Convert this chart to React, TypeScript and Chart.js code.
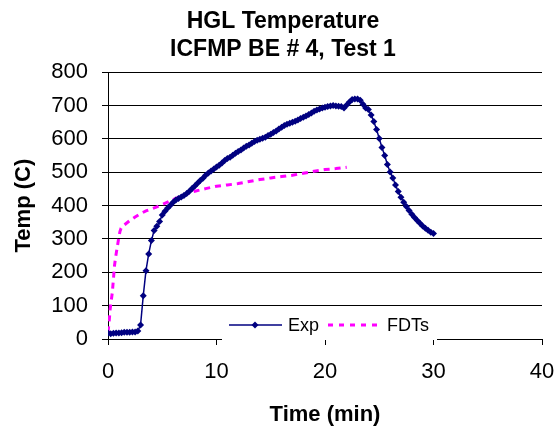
import React, { useEffect, useRef } from "react";
import { Chart, registerables } from "chart.js";

Chart.register(...registerables);

const FONT = "'Liberation Sans', Arial, Helvetica, sans-serif";
const NAVY = "#000080";
const MAGENTA = "#FF00FF";

const chartTitle = ["HGL Temperature", "ICFMP BE # 4, Test 1"];
const xAxisTitle = "Time (min)";
const yAxisTitle = "Temp (C)";
const seriesNames = ["Exp", "FDTs"];

const expTime = [
  0, 0.25, 0.5, 0.75, 1, 1.25, 1.5, 1.75, 2, 2.25, 2.5, 2.75,
  3, 3.25, 3.5, 3.75, 4, 4.25, 4.5, 4.75, 5, 5.25, 5.5, 5.75,
  6, 6.25, 6.5, 6.75, 7, 7.25, 7.5, 7.75, 8, 8.25, 8.5, 8.75,
  9, 9.25, 9.5, 9.75, 10, 10.25, 10.5, 10.75, 11, 11.25, 11.5, 11.75,
  12, 12.25, 12.5, 12.75, 13, 13.25, 13.5, 13.75, 14, 14.25, 14.5, 14.75,
  15, 15.25, 15.5, 15.75, 16, 16.25, 16.5, 16.75, 17, 17.25, 17.5, 17.75,
  18, 18.25, 18.5, 18.75, 19, 19.25, 19.5, 19.75, 20, 20.25, 20.5, 20.75,
  21, 21.25, 21.5, 21.75, 22, 22.25, 22.5, 22.75, 23, 23.25, 23.5, 23.75,
  24, 24.25, 24.5, 24.75, 25, 25.25, 25.5, 25.75, 26, 26.25, 26.5, 26.75,
  27, 27.25, 27.5, 27.75, 28, 28.25, 28.5, 28.75, 29, 29.25, 29.5, 29.75,
  30,
];

const expTemp = [
  18, 16, 17, 18, 18, 19, 20, 20, 20, 21, 21, 24,
  42, 130, 205, 255, 295, 325, 338, 352, 372, 383, 393, 401,
  410, 417, 421, 426, 430, 436, 443, 451, 459, 467, 475, 482,
  491, 498, 504, 510, 516, 521, 528, 535, 541, 545, 551, 557,
  562, 567, 573, 578, 582, 587, 592, 596, 599, 602, 605, 610,
  614, 619, 624, 630, 635, 640, 644, 647, 650, 653, 657, 661,
  665, 669, 673, 678, 683, 687, 690, 693, 695, 697, 699, 700,
  699, 698, 697, 693, 702, 711, 718, 720, 720, 716, 704, 693,
  688, 672, 652, 628, 601, 574, 550, 523, 501, 483, 462, 442,
  425, 410, 397, 385, 374, 364, 355, 347, 339, 332, 326, 320,
  316,
];

const fdtTime = [
  0, 0.1, 0.2, 0.3, 0.4, 0.5, 0.6, 0.7, 0.8, 0.9, 1.0, 1.1, 1.2, 1.5,
  2, 2.5, 3, 3.5, 4, 4.5, 5, 6, 7, 8, 9, 10, 11, 12, 13, 14, 15, 16,
  17, 18, 19, 20, 21, 22,
];

const fdtTemp = [
  20, 50, 90, 115, 140, 180, 220, 245, 265, 285, 305, 322, 332, 342,
  355, 366, 376, 384, 390, 396, 403, 418, 432, 443, 451, 458, 462, 466,
  472, 478, 483, 487, 491, 497, 503, 508, 511, 515,
];

const xTicks = { min: 0, max: 40, step: 10 };
const yTicks = { min: 0, max: 800, step: 100 };

export default function App() {
  const ref = useRef<HTMLCanvasElement>(null);

  useEffect(() => {
    if (!ref.current) return;

    const insideLegend = {
      id: "insideLegend",
      afterDatasetsDraw(chart: any) {
        const { ctx, chartArea: a } = chart;
        ctx.save();
        const bx = a.left + 114;
        const by = a.bottom - 30;
        ctx.fillStyle = "#ffffff";
        ctx.fillRect(bx, by, 215, 31);
        const cy = a.bottom - 14;
        // Exp
        ctx.strokeStyle = NAVY;
        ctx.lineWidth = 1.3;
        ctx.beginPath();
        ctx.moveTo(bx + 7, cy);
        ctx.lineTo(bx + 60, cy);
        ctx.stroke();
        ctx.fillStyle = NAVY;
        ctx.beginPath();
        const mx = bx + 33;
        ctx.moveTo(mx, cy - 3.5);
        ctx.lineTo(mx + 3.5, cy);
        ctx.lineTo(mx, cy + 3.5);
        ctx.lineTo(mx - 3.5, cy);
        ctx.closePath();
        ctx.fill();
        ctx.fillStyle = "#000";
        ctx.font = `18px ${FONT}`;
        ctx.textBaseline = "middle";
        ctx.textAlign = "left";
        ctx.fillText(seriesNames[0], bx + 66, cy + 1);
        // FDTs
        ctx.strokeStyle = MAGENTA;
        ctx.lineWidth = 3;
        ctx.setLineDash([5, 6]);
        ctx.beginPath();
        ctx.moveTo(bx + 106, cy);
        ctx.lineTo(bx + 160, cy);
        ctx.stroke();
        ctx.setLineDash([]);
        ctx.fillText(seriesNames[1], bx + 165, cy + 1);
        ctx.restore();
      },
    };

    const chart = new Chart(ref.current, {
      type: "line",
      data: {
        datasets: [
          {
            label: seriesNames[0],
            data: expTime.map((t, i) => ({ x: t, y: expTemp[i] })),
            borderColor: NAVY,
            backgroundColor: NAVY,
            borderWidth: 1.5,
            pointStyle: "rectRot",
            pointRadius: 3.5,
            pointBorderWidth: 0,
            pointBackgroundColor: NAVY,
            tension: 0,
          },
          {
            label: seriesNames[1],
            data: fdtTime.map((t, i) => ({ x: t, y: fdtTemp[i] })),
            borderColor: MAGENTA,
            backgroundColor: MAGENTA,
            borderWidth: 3,
            borderDash: [6, 5],
            pointRadius: 0,
            tension: 0,
          },
        ],
      },
      options: {
        responsive: false,
        animation: false,
        layout: { padding: { left: 11, right: 0, top: 0, bottom: 0 } },
        plugins: {
          legend: { display: false },
          tooltip: { enabled: false },
          title: {
            display: true,
            text: chartTitle,
            color: "#000",
            font: { family: FONT, size: 23, weight: "bold", lineHeight: 1.2 },
            padding: { top: 8, bottom: 9 },
          },
        },
        scales: {
          x: {
            type: "linear",
            min: xTicks.min,
            max: xTicks.max,
            afterFit: (s: any) => {
              s.height = 88;
              s.paddingRight = 13;
            },
            ticks: {
              stepSize: xTicks.step,
              color: "#000",
              font: { family: FONT, size: 22 },
              padding: 14,
              maxRotation: 0,
            },
            grid: {
              drawOnChartArea: false,
              drawTicks: true,
              tickLength: 6,
              color: "#000",
            },
            border: { color: "#000", width: 1 },
            title: {
              display: true,
              text: xAxisTitle,
              color: "#000",
              font: { family: FONT, size: 22, weight: "bold", lineHeight: 1.0 },
              padding: { top: 0, bottom: 1 },
            },
          },
          y: {
            type: "linear",
            min: yTicks.min,
            max: yTicks.max,
            afterFit: (s: any) => {
              s.width = 97;
            },
            ticks: {
              stepSize: yTicks.step,
              color: "#000",
              font: { family: FONT, size: 22 },
              padding: 14,
            },
            grid: {
              drawTicks: true,
              tickLength: 6,
              color: "#000",
            },
            border: { color: "#000", width: 1 },
            title: {
              display: true,
              text: yAxisTitle,
              color: "#000",
              font: { family: FONT, size: 22, weight: "bold" },
              padding: { top: 0, bottom: 0 },
            },
          },
        },
      },
      plugins: [insideLegend],
    });

    return () => chart.destroy();
  }, []);

  return (
    <div
      style={{
        position: "fixed",
        left: 0,
        top: 0,
        width: 555,
        height: 427,
        background: "#fff",
      }}
    >
      <canvas
        ref={ref}
        width={555}
        height={427}
        style={{ width: 555, height: 427, display: "block" }}
      />
    </div>
  );
}
